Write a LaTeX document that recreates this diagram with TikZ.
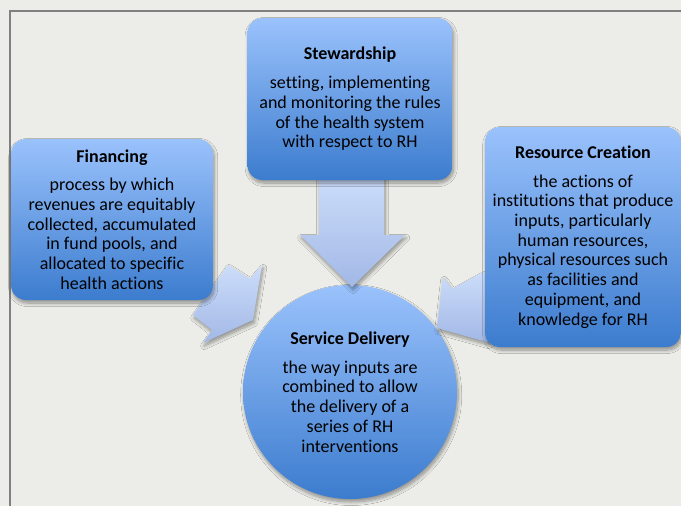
\documentclass[tikz,border=0pt]{standalone}
\usepackage{fontspec}
\setmainfont{Carlito}[Ligatures=NoCommon]
\usetikzlibrary{shadows.blur}

\definecolor{bg}{RGB}{236,237,232}
\definecolor{framegray}{RGB}{128,128,128}
\definecolor{boxtop}{RGB}{154,194,252}
\definecolor{boxbot}{RGB}{60,124,206}
\definecolor{arrtop}{RGB}{204,221,250}
\definecolor{arrbot}{RGB}{162,184,230}

\tikzset{
  softshadow/.style={blur shadow={shadow xshift=1.2pt, shadow yshift=-3pt,
      shadow blur radius=3.5pt, shadow blur steps=10, shadow opacity=40}},
  funcbox/.style={rectangle, rounded corners=15pt, inner sep=0pt,
      top color=boxtop, bottom color=boxbot, softshadow,
      align=center, text=black, font=\fontsize{18}{19.7}\selectfont},
  funccircle/.style={circle, inner sep=0pt, minimum size=214pt,
      top color=boxtop, bottom color=boxbot, softshadow,
      align=center, text=black, font=\fontsize{18}{19.7}\selectfont},
  blockarrow/.style={top color=arrtop, bottom color=arrbot, softshadow},
}

\begin{document}
\begin{tikzpicture}[x=1pt,y=-1pt]
  % canvas and frame
  \fill[bg] (0,0) rectangle (681,506);
  \useasboundingbox (0,0) rectangle (681,506);
  \draw[framegray, line width=1.2pt] (681,11) -- (10,11) -- (10,506);

  % central function
  \node[funccircle] (service) at (350,392)
    {\textbf{Service Delivery}\\[9pt]
     the way inputs are\\ combined to allow\\ the delivery of a\\
     series of RH\\ interventions};

  % block arrows feeding the centre
  \path[blockarrow] (319,176) -- (384,176) -- (384,235) -- (405,235)
    -- (352,287) -- (300,235) -- (319,235) -- cycle;
  \path[blockarrow] (228,265) -- (250,279) -- (262,265) -- (253,320)
    -- (203,343) -- (212,330) -- (193,315) -- cycle;
  \path[blockarrow] (483,272) -- (452,289) -- (443,277) -- (437,328)
    -- (487,342) -- (499,337) -- (518,322) -- cycle;

  % the three contributing functions
  \node[funcbox, minimum width=205pt, minimum height=162pt] (steward) at (350,99)
    {\textbf{Stewardship}\\[9pt]
     setting, implementing\\ and monitoring the rules\\
     of the health system\\ with respect to RH};
  \node[funcbox, minimum width=202pt, minimum height=161pt] (financing) at (112,219.5)
    {\textbf{Financing}\\[9pt]
     process by which\\ revenues are equitably\\ collected, accumulated\\
     in fund pools, and\\ allocated to specific\\ health actions};
  \node[funcbox, minimum width=196pt, minimum height=220pt] (resource) at (583,237)
    {\textbf{Resource Creation}\\[9pt]
     the actions of\\ institutions that produce\\ inputs, particularly\\
     human resources,\\ physical resources such\\ as facilities and\\
     equipment, and\\ knowledge for RH};
\end{tikzpicture}
\end{document}
